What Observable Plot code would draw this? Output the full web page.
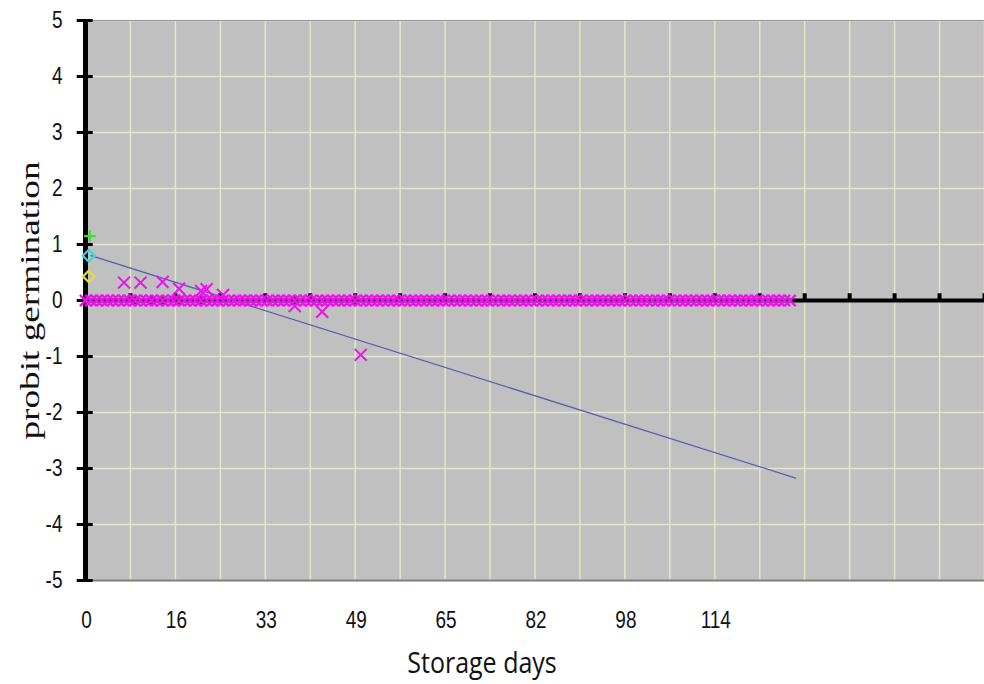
<!DOCTYPE html>
<html>
<head>
<meta charset="utf-8">
<script src="https://cdn.jsdelivr.net/npm/d3@7"></script>
<script src="https://cdn.jsdelivr.net/npm/@observablehq/plot@0.6"></script>
<style>
  html, body { margin: 0; padding: 0; background: #ffffff; }
  #chart { width: 984px; height: 684px; }
</style>
</head>
<body>
<div id="chart"></div>
<script>
// ---- data ----
// storage days where the magenta series sits on probit 0 (one marker per day)
const zeroDays = [0,1,2,3,4,5,6,7,8,9,10,11,12,13,14,15,16,17,18,19,20,21,22,23,24,25,26,27,28,29,
  30,31,32,33,34,35,36,37,38,39,40,41,42,43,44,45,46,47,48,49,50,51,52,53,54,55,56,57,58,59,
  60,61,62,63,64,65,66,67,68,69,70,71,72,73,74,75,76,77,78,79,80,81,82,83,84,85,86,87,88,89,
  90,91,92,93,94,95,96,97,98,99,100,101,102,103,104,105,106,107,108,109,110,111,112,113,114,
  115,116,117,118,119,120,121,122,123,124,125,126,127,128];
// magenta points away from zero
const offDays   = [7, 10, 14, 17, 21, 22, 25, 38, 43, 50];
const offValues = [0.32, 0.32, 0.33, 0.21, 0.17, 0.20, 0.10, -0.10, -0.20, -0.97];
// black open markers on the zero line
const blackDays = [9, 12, 14, 17, 21, 38, 49];
// day-0 markers (green plus, cyan diamond, yellow diamond)
const startDays   = [0.8, 0.6, 0.6];
const startValues = [1.15, 0.80, 0.43];
// fitted regression line
const fitDays   = [1, 129];
const fitValues = [0.80, -3.17];
// axes
const xDomain = [0, 163.33];
const xGridCount = 20;
const xTickValues = [0, 16.33, 32.67, 49, 65.33, 81.67, 98, 114.33];
const xTickLabels = ["0", "16", "33", "49", "65", "82", "98", "114"];
const yTickValues = [5, 4, 3, 2, 1, 0, -1, -2, -3, -4, -5];
const yTickLabels = ["5", "4", "3", "2", "1", "0", "-1", "-2", "-3", "-4", "-5"];
const xTitle = "Storage days";
const yTitle = "probit germination";

// ---- derived tables ----
const xGrid = d3.range(0, xGridCount + 1).map(i => xDomain[1] * i / xGridCount);
const zeroRow = zeroDays.map(d => ({day: d, v: 0}));
const offRow = offDays.map((d, i) => ({day: d, v: offValues[i]}));
const blackRow = blackDays.map(d => ({day: d, v: 0}));
const startRow = startDays.map((d, i) => ({day: d, v: startValues[i]}));
const fitRow = fitDays.map((d, i) => ({day: d, v: fitValues[i]}));
const yTicks = yTickValues.map((v, i) => ({v, label: yTickLabels[i]}));
const xTicks = xTickValues.map((v, i) => ({v, label: xTickLabels[i]}));

const sans = "'Liberation Sans', Arial, sans-serif";
const magenta = "#ee11ee";

const plot = Plot.plot({
  width: 984,
  height: 684,
  marginLeft: 85,
  marginRight: 0,
  marginTop: 20,
  marginBottom: 104,
  x: {domain: xDomain, axis: null},
  y: {domain: [-5, 5], axis: null},
  style: {background: "#ffffff", overflow: "visible"},
  marks: [
    Plot.frame({fill: "#c0c0c0", stroke: null}),
    // gridlines
    Plot.ruleY(yTickValues, {stroke: "#e4e4d4", strokeWidth: 1.5}),
    Plot.ruleX(xGrid, {stroke: "#e6e6c6", strokeWidth: 1.5}),
    Plot.ruleY([5], {stroke: "#9a9a9a", strokeWidth: 1}),
    Plot.ruleY([-5], {stroke: "#7e7e7e", strokeWidth: 2}),
    // x axis at zero with upward ticks
    Plot.ruleY([0], {stroke: "#000", strokeWidth: 4}),
    Plot.ruleX(xGrid, {y1: 0, y2: 0.12, stroke: "#000", strokeWidth: 4}),
    // y axis
    Plot.ruleX([0], {y1: -5, y2: 5, stroke: "#000", strokeWidth: 5}),
    Plot.ruleY(yTickValues, {x1: -1.5, x2: 1.4, stroke: "#000", strokeWidth: 3}),
    // regression line
    Plot.line(fitRow, {x: "day", y: "v", stroke: "#5c5cb0", strokeWidth: 1.3}),
    // markers
    Plot.dot(blackRow, {x: "day", y: "v", symbol: "circle", r: 3.5, stroke: "#000", strokeWidth: 1.5, fill: "none"}),
    Plot.dot(zeroRow, {x: "day", y: "v", symbol: "times", r: 5.2, stroke: magenta, strokeWidth: 2.2}),
    Plot.dot(offRow, {x: "day", y: "v", symbol: "times", r: 5.5, stroke: magenta, strokeWidth: 2}),
    Plot.dot([startRow[0]], {x: "day", y: "v", symbol: "plus", r: 3.8, stroke: "#33e633", strokeWidth: 2.2}),
    Plot.dot([startRow[1]], {x: "day", y: "v", symbol: "diamond2", r: 5.4, stroke: "#3cd6e0", strokeWidth: 2.2}),
    Plot.dot([startRow[2]], {x: "day", y: "v", symbol: "diamond2", r: 5.2, stroke: "#e2e032", strokeWidth: 2.2}),
    // tick labels
    Plot.text(yTicks, {x: 0, y: "v", text: "label", dx: -23, textAnchor: "end",
      fontSize: 19, fontFamily: sans, fill: "#111", ariaLabel: () => "ytl"}),
    Plot.text(xTicks, {x: "v", y: -5, text: "label", dx: 1, dy: 40, textAnchor: "middle",
      fontSize: 19, fontFamily: sans, fill: "#111", ariaLabel: () => "xtl"}),
    // titles
    Plot.text([xTitle], {frameAnchor: "bottom", textAnchor: "middle", dx: -53, dy: 92, fontSize: 25,
      fontFamily: "'Open Sans', 'Noto Sans', sans-serif", fill: "#111", ariaLabel: () => "xtitle"}),
    Plot.text([yTitle], {frameAnchor: "left", textAnchor: "middle", dx: -55, rotate: -90, fontSize: 28,
      fontFamily: "'Liberation Serif', 'Times New Roman', serif", fill: "#111", ariaLabel: () => "ytitle"})
  ]
});

// stretch text glyphs to match the reference's taller lettering
function stretch(root, label, sx, sy) {
  root.querySelectorAll(`text[aria-label="${label}"], g[aria-label="${label}"] text`).forEach(t => {
    const tr = t.getAttribute("transform");
    if (tr) {
      t.setAttribute("transform", `${tr} scale(${sx},${sy})`);
    } else {
      const cx = parseFloat(t.getAttribute("x")) || 0;
      const cy = parseFloat(t.getAttribute("y")) || 0;
      t.setAttribute("transform", `translate(${cx},${cy}) scale(${sx},${sy}) translate(${-cx},${-cy})`);
    }
  });
}
stretch(plot, "ytl", 1, 1.25);
stretch(plot, "xtl", 1, 1.25);
stretch(plot, "xtitle", 1, 1.2);
stretch(plot, "ytitle", 1.33, 1);

document.getElementById("chart").appendChild(plot);
</script>
</body>
</html>
